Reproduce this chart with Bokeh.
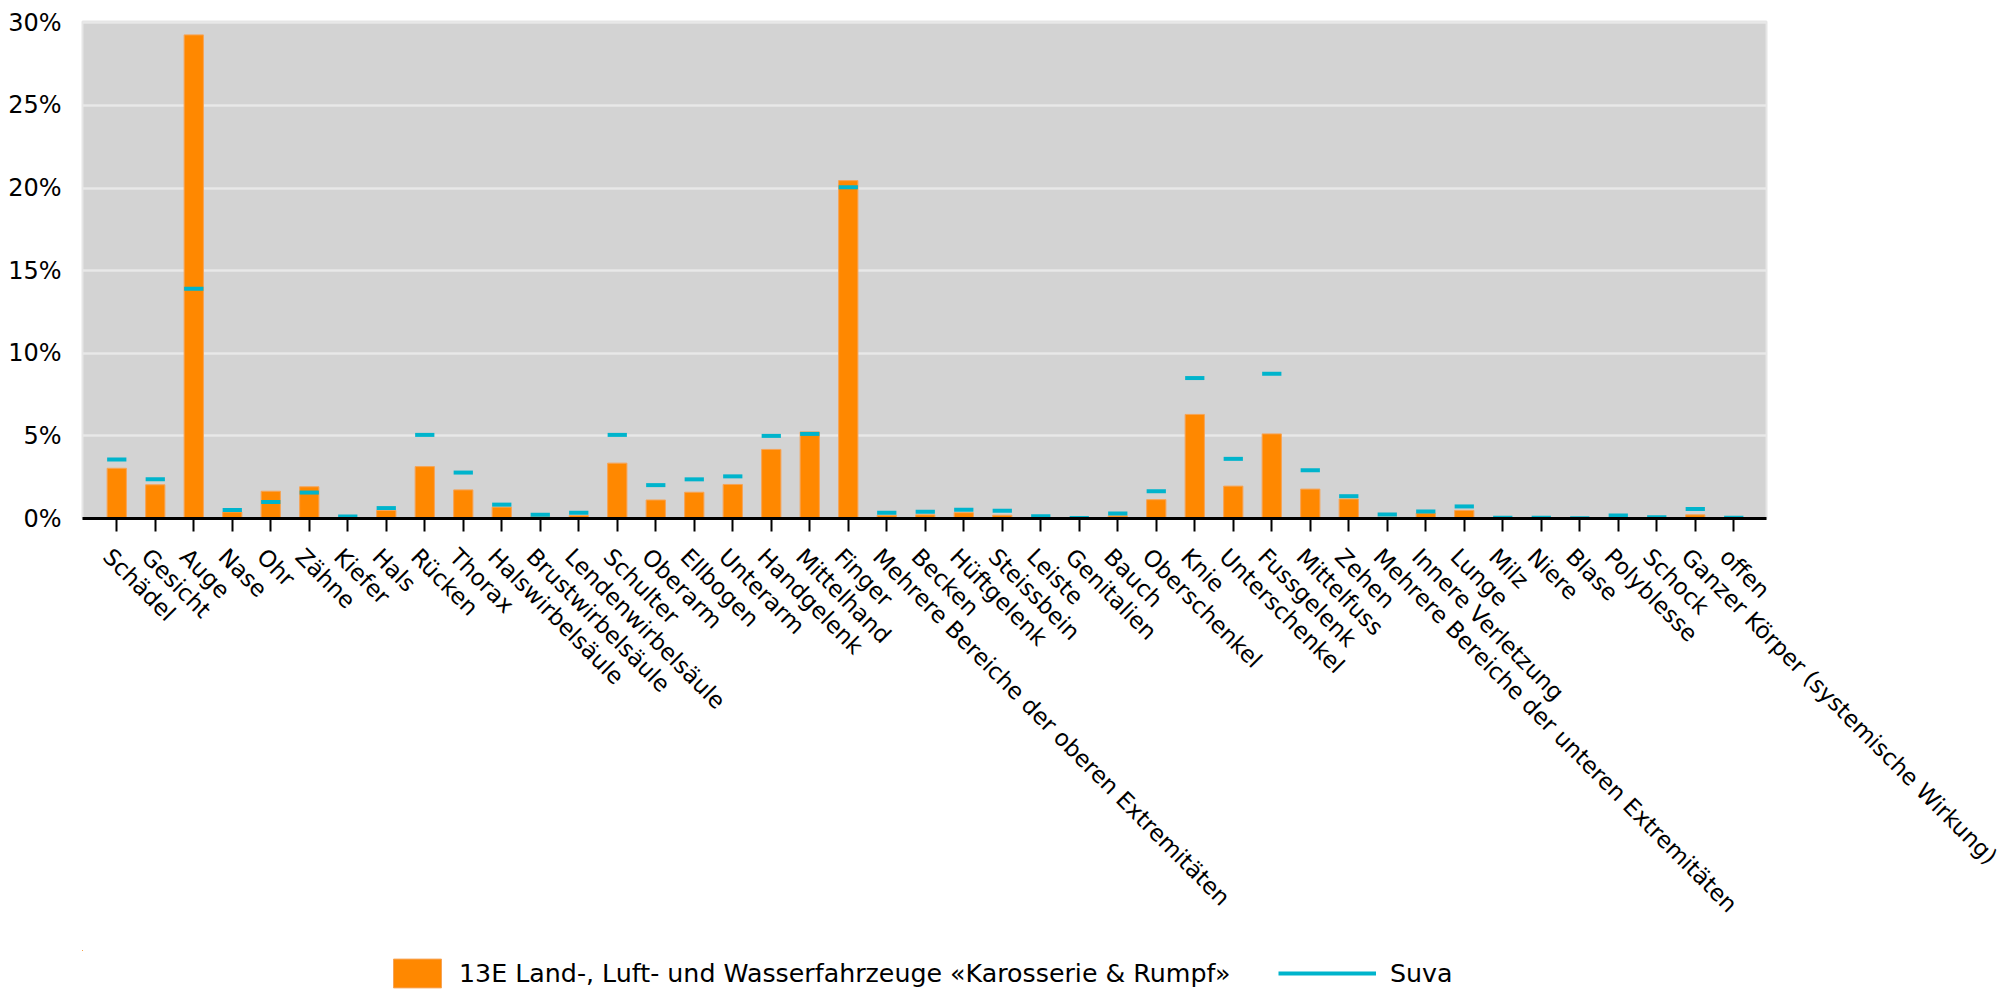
import math
from bokeh.plotting import figure
from bokeh.layouts import column
from bokeh.models import (Range1d, FixedTicker, Legend, LegendItem, ColumnDataSource,
                          LinearAxis)
from bokeh.embed import file_html
from bokeh.resources import INLINE

categories = ["Schädel", "Gesicht", "Auge", "Nase", "Ohr", "Zähne", "Kiefer", "Hals", "Rücken",
              "Thorax", "Halswirbelsäule", "Brustwirbelsäule", "Lendenwirbelsäule", "Schulter",
              "Oberarm", "Ellbogen", "Unterarm", "Handgelenk", "Mittelhand", "Finger",
              "Mehrere Bereiche der oberen Extremitäten", "Becken", "Hüftgelenk", "Steissbein",
              "Leiste", "Genitalien", "Bauch", "Oberschenkel", "Knie", "Unterschenkel",
              "Fussgelenk", "Mittelfuss", "Zehen", "Mehrere Bereiche der unteren Extremitäten",
              "Innere Verletzung", "Lunge", "Milz", "Niere", "Blase", "Polyblesse", "Schock",
              "Ganzer Körper (systemische Wirkung)", "offen"]

branch = [3.04, 2.04, 29.27, 0.39, 1.65, 1.92, 0.0, 0.49, 3.14, 1.73, 0.69, 0.10, 0.18, 3.35,
          1.12, 1.59, 2.06, 4.18, 5.24, 20.45, 0.20, 0.22, 0.35, 0.20, 0.04, 0.0, 0.16, 1.14,
          6.30, 1.96, 5.12, 1.78, 1.18, 0.08, 0.33, 0.49, 0.0, 0.0, 0.0, 0.0, 0.0, 0.22, 0.0]

suva = [3.57, 2.37, 13.9, 0.51, 1.0, 1.57, 0.12, 0.63, 5.06, 2.78, 0.84, 0.22, 0.35, 5.06,
        2.02, 2.37, 2.55, 5.0, 5.12, 20.05, 0.35, 0.41, 0.53, 0.47, 0.14, 0.03, 0.31, 1.65,
        8.5, 3.61, 8.76, 2.92, 1.35, 0.24, 0.43, 0.73, 0.04, 0.04, 0.02, 0.18, 0.08, 0.57, 0.04]

y_ticks = [0, 5, 10, 15, 20, 25, 30]
y_labels = ["0%", "5%", "10%", "15%", "20%", "25%", "30%"]

series_name = "13E Land-, Luft- und Wasserfahrzeuge «Karosserie & Rumpf»"
ref_name = "Suva"

FONT = "DejaVu Sans"
ORANGE = "#ff8800"
ORANGE_EDGE = "#f7a456"
CYAN = "#00b4cc"

idx = list(range(len(categories)))
half = 0.25
src = ColumnDataSource(dict(
    x=idx, branch=branch, suva=suva,
    x0=[i - half for i in idx], x1=[i + half for i in idx],
))

X0, X1 = -0.89, 42.85
LABEL_SHIFT = 0.25

p = figure(width=2006, height=950, output_backend="svg", toolbar_location=None,
           x_range=Range1d(X0, X1), y_range=Range1d(0, 30.08),
           min_border_left=82, min_border_right=240, min_border_top=21,
           min_border_bottom=432)
p.background_fill_color = "#d3d3d3"
p.border_fill_color = "white"
p.outline_line_color = "#e6e6e6"
p.outline_line_width = 2

bars = p.vbar(x="x", top="branch", width=0.5, source=src,
              fill_color=ORANGE, line_color=ORANGE_EDGE, line_width=1)
marks = p.segment(x0="x0", x1="x1", y0="suva", y1="suva", source=src,
                  line_color=CYAN, line_width=4)

# main x axis: line + tick marks only
xa = p.xaxis[0]
xa.ticker = FixedTicker(ticks=idx)
xa.axis_line_width = 3
xa.axis_line_color = "black"
xa.major_tick_out = 13
xa.major_tick_in = 0
xa.major_tick_line_width = 2
xa.major_tick_line_color = "black"
xa.minor_tick_line_color = None
xa.major_label_overrides = {i: "" for i in idx}
xa.major_label_text_color = None
xa.major_label_text_font_size = "1px"
xa.major_label_standoff = 0

# label axis, slightly shifted so that labels hang from the tick like the reference
p.extra_x_ranges = {"labels": Range1d(X0 + LABEL_SHIFT, X1 + LABEL_SHIFT)}
la = LinearAxis(x_range_name="labels", ticker=FixedTicker(ticks=idx))
la.major_label_overrides = {i: c for i, c in enumerate(categories)}
la.major_label_orientation = -math.pi / 4
la.axis_line_color = None
la.major_tick_line_color = None
la.major_tick_out = 0
la.major_tick_in = 0
la.minor_tick_line_color = None
la.major_label_text_font = FONT
la.major_label_text_font_size = "23px"
la.major_label_text_color = "black"
la.major_label_standoff = 21
p.add_layout(la, "below")

ya = p.yaxis[0]
ya.ticker = FixedTicker(ticks=y_ticks)
ya.major_label_overrides = {t: l for t, l in zip(y_ticks, y_labels)}
ya.axis_line_color = None
ya.major_tick_line_color = None
ya.minor_tick_line_color = None
ya.major_label_text_font = FONT
ya.major_label_text_font_size = "24px"
ya.major_label_text_color = "black"
ya.major_label_standoff = 15

p.xgrid.grid_line_color = None
p.ygrid.grid_line_color = "#e8e8e8"
p.ygrid.grid_line_width = 2.5

# legend strip below the chart (its frame lines up with the chart frame);
# its glyphs are drawn from the same data but far outside its view, only the legend shows
pl = figure(width=2006, height=41, output_backend="svg", toolbar_location=None,
            x_range=Range1d(1000, 1001), y_range=Range1d(-1001, -1000),
            x_axis_location=None, y_axis_location=None,
            min_border_left=82, min_border_right=240, min_border_top=0, min_border_bottom=0)
pl.outline_line_color = None
pl.background_fill_color = "white"
pl.border_fill_color = "white"
pl.xgrid.grid_line_color = None
pl.ygrid.grid_line_color = None
lbars = pl.vbar(x="x", top="branch", width=0.5, source=src,
                fill_color=ORANGE, line_color=ORANGE_EDGE, line_width=1)
lmarks = pl.segment(x0="x0", x1="x1", y0="suva", y1="suva", source=src,
                    line_color=CYAN, line_width=4)

common = dict(orientation="horizontal", padding=0, margin=0, spacing=0,
              border_line_color=None, background_fill_alpha=0,
              label_text_font=FONT, label_text_font_size="25.3px",
              label_text_color="black", glyph_height=36, label_height=36)

leg1 = Legend(items=[LegendItem(label=series_name, renderers=[lbars])],
              location=(305, 0), glyph_width=60, label_standoff=12, **common)
leg2 = Legend(items=[LegendItem(label=ref_name, renderers=[lmarks])],
              location=(1196, 0), glyph_width=98, label_standoff=14, **common)
pl.add_layout(leg1)
pl.add_layout(leg2)

layout = column(p, pl, spacing=0)
open("out.html", "w").write(file_html(layout, INLINE))
